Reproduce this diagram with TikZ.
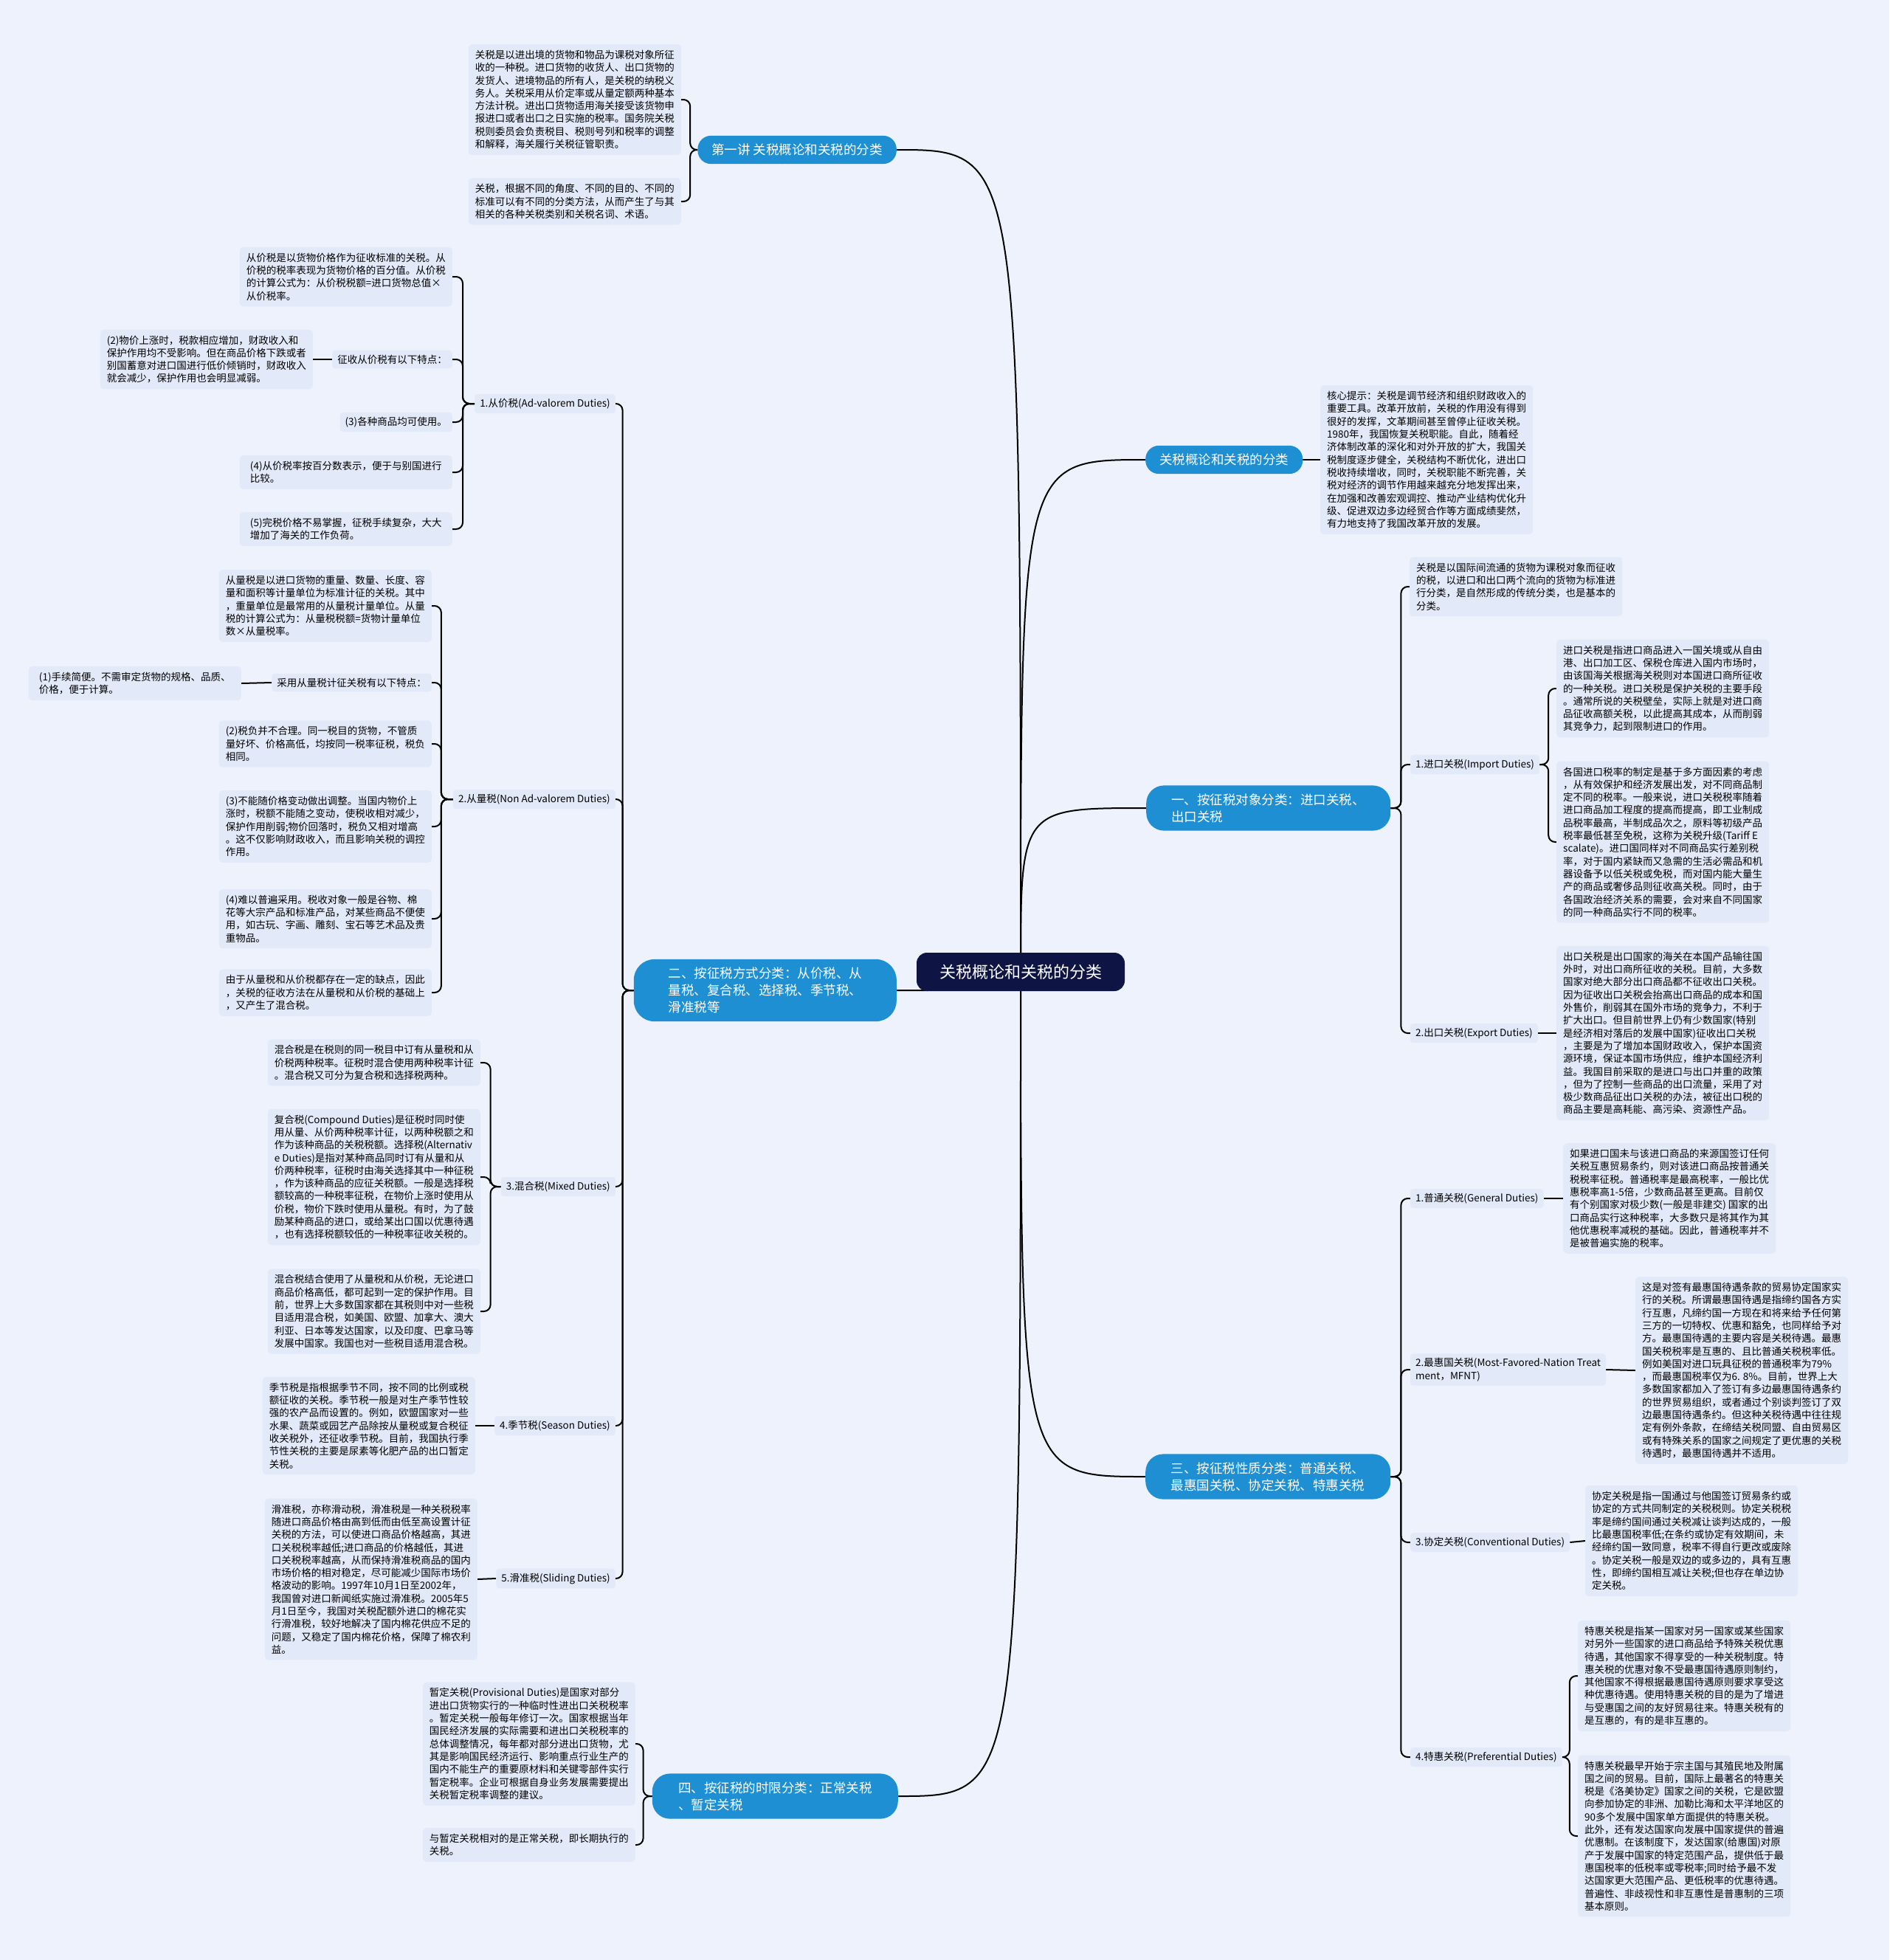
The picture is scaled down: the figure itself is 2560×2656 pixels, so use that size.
\documentclass[tikz,border=0pt]{standalone}
\usepackage{fontspec}
\setmainfont{Noto Sans CJK SC}
\definecolor{bgcol}{HTML}{EEF2FC}
\definecolor{boxcol}{HTML}{E2E9F8}
\definecolor{pillcol}{HTML}{1E8FD3}
\definecolor{rootcol}{HTML}{0E1545}
\pgfdeclarelayer{back}
\pgfdeclarelayer{lines}
\pgfsetlayers{back,lines,main}

\begin{document}
\begin{tikzpicture}[x=1pt,y=-1pt,
    txt/.style={fill=boxcol, rounded corners=5pt, align=left, minimum width=288pt,
      inner xsep=9pt, inner ysep=8pt, font=\fontsize{13.5}{17.3}\selectfont},
    lab/.style={fill=boxcol, rounded corners=4pt, align=left,
      inner xsep=7pt, inner ysep=6pt, font=\fontsize{13.5}{17.3}\selectfont},
    pill/.style={fill=pillcol, text=white, rounded corners=18pt, align=left,
      inner xsep=19pt, inner ysep=11pt, font=\fontsize{17.5}{23}\selectfont},
    link/.style={draw=black, line width=2pt, rounded corners=9pt}]

  \begin{pgfonlayer}{back}
    \fill[bgcol] (0,0) rectangle (2560,2656);
  \end{pgfonlayer}
  \useasboundingbox (0,0) rectangle (2560,2656);

  \node[fill=rootcol, text=white, rounded corners=14pt, inner xsep=31pt,
    minimum height=52pt, font=\fontsize{22}{26}\selectfont] (root) at (1383,1317) {关税概论和关税的分类};

  % left half
  \begin{scope}[every node/.style={anchor=east}]
    \node[pill] (n1) at (1215,203) {第一讲 关税概论和关税的分类};
    \node[pill, minimum width=356pt, rounded corners=28pt] (n2) at (1215,1342) {二、按征税方式分类：从价税、从\\
      量税、复合税、选择税、季节税、\\
      滑准税等};
    \node[pill, minimum width=333pt, rounded corners=24pt] (n4) at (1217,2434) {四、按征税的时限分类：正常关税\\
      、暂定关税};

    \node[txt] (tA) at (923,135) {关税是以进出境的货物和物品为课税对象所征\\
      收的一种税。进口货物的收货人、出口货物的\\
      发货人、进境物品的所有人，是关税的纳税义\\
      务人。关税采用从价定率或从量定额两种基本\\
      方法计税。进出口货物适用海关接受该货物申\\
      报进口或者出口之日实施的税率。国务院关税\\
      税则委员会负责税目、税则号列和税率的调整\\
      和解释，海关履行关税征管职责。};
    \node[txt] (tB) at (923,273) {关税，根据不同的角度、不同的目的、不同的\\
      标准可以有不同的分类方法，从而产生了与其\\
      相关的各种关税类别和关税名词、术语。};

    \node[lab] (c1) at (834,547) {1.从价税(Ad-valorem Duties)};
    \node[txt] (c1a) at (613,375) {从价税是以货物价格作为征收标准的关税。从\\
      价税的税率表现为货物价格的百分值。从价税\\
      的计算公式为：从价税税额=进口货物总值×\\
      从价税率。};
    \node[lab] (c1b) at (613,487) {征收从价税有以下特点：};
    \node[txt] (c1b1) at (424,487) {(2)物价上涨时，税款相应增加，财政收入和\\
      保护作用均不受影响。但在商品价格下跌或者\\
      别国蓄意对进口国进行低价倾销时，财政收入\\
      就会减少，保护作用也会明显减弱。};
    \node[lab] (c1c) at (613,572) {(3)各种商品均可使用。};
    \node[txt] (c1d) at (613,640) {(4)从价税率按百分数表示，便于与别国进行\\
      比较。};
    \node[txt] (c1e) at (613,717) {(5)完税价格不易掌握，征税手续复杂，大大\\
      增加了海关的工作负荷。};

    \node[lab] (c2) at (834,1083) {2.从量税(Non Ad-valorem Duties)};
    \node[txt] (c2a) at (585,821) {从量税是以进口货物的重量、数量、长度、容\\
      量和面积等计量单位为标准计征的关税。其中\\
      ，重量单位是最常用的从量税计量单位。从量\\
      税的计算公式为：从量税税额=货物计量单位\\
      数×从量税率。};
    \node[lab] (c2b) at (585,925) {采用从量税计征关税有以下特点：};
    \node[txt] (c2b1) at (327,926) {(1)手续简便。不需审定货物的规格、品质、\\
      价格，便于计算。};
    \node[txt] (c2c) at (585,1008) {(2)税负并不合理。同一税目的货物，不管质\\
      量好坏、价格高低，均按同一税率征税，税负\\
      相同。};
    \node[txt] (c2d) at (585,1120) {(3)不能随价格变动做出调整。当国内物价上\\
      涨时，税额不能随之变动，使税收相对减少，\\
      保护作用削弱;物价回落时，税负又相对增高\\
      。这不仅影响财政收入，而且影响关税的调控\\
      作用。};
    \node[txt] (c2e) at (585,1245) {(4)难以普遍采用。税收对象一般是谷物、棉\\
      花等大宗产品和标准产品，对某些商品不便使\\
      用，如古玩、字画、雕刻、宝石等艺术品及贵\\
      重物品。};
    \node[txt] (c2f) at (585,1345) {由于从量税和从价税都存在一定的缺点，因此\\
      ，关税的征收方法在从量税和从价税的基础上\\
      ，又产生了混合税。};

    \node[lab] (c3) at (834,1608) {3.混合税(Mixed Duties)};
    \node[txt] (c3a) at (651,1440) {混合税是在税则的同一税目中订有从量税和从\\
      价税两种税率。征税时混合使用两种税率计征\\
      。混合税又可分为复合税和选择税两种。};
    \node[txt] (c3b) at (651,1595) {复合税(Compound Duties)是征税时同时使\\
      用从量、从价两种税率计征，以两种税额之和\\
      作为该种商品的关税税额。选择税(Alternativ\\
      e Duties)是指对某种商品同时订有从量和从\\
      价两种税率，征税时由海关选择其中一种征税\\
      ，作为该种商品的应征关税额。一般是选择税\\
      额较高的一种税率征税，在物价上涨时使用从\\
      价税，物价下跌时使用从量税。有时，为了鼓\\
      励某种商品的进口，或给某出口国以优惠待遇\\
      ，也有选择税额较低的一种税率征收关税的。};
    \node[txt] (c3c) at (651,1777) {混合税结合使用了从量税和从价税，无论进口\\
      商品价格高低，都可起到一定的保护作用。目\\
      前，世界上大多数国家都在其税则中对一些税\\
      目适用混合税，如美国、欧盟、加拿大、澳大\\
      利亚、日本等发达国家，以及印度、巴拿马等\\
      发展中国家。我国也对一些税目适用混合税。};

    \node[lab] (c4) at (834,1932) {4.季节税(Season Duties)};
    \node[txt] (c4a) at (644,1932) {季节税是指根据季节不同，按不同的比例或税\\
      额征收的关税。季节税一般是对生产季节性较\\
      强的农产品而设置的。例如，欧盟国家对一些\\
      水果、蔬菜或园艺产品除按从量税或复合税征\\
      收关税外，还征收季节税。目前，我国执行季\\
      节性关税的主要是尿素等化肥产品的出口暂定\\
      关税。};

    \node[lab] (c5) at (834,2139) {5.滑准税(Sliding Duties)};
    \node[txt] (c5a) at (647,2140) {滑准税，亦称滑动税，滑准税是一种关税税率\\
      随进口商品价格由高到低而由低至高设置计征\\
      关税的方法，可以使进口商品价格越高，其进\\
      口关税税率越低;进口商品的价格越低，其进\\
      口关税税率越高，从而保持滑准税商品的国内\\
      市场价格的相对稳定，尽可能减少国际市场价\\
      格波动的影响。1997年10月1日至2002年，\\
      我国曾对进口新闻纸实施过滑准税。2005年5\\
      月1日至今，我国对关税配额外进口的棉花实\\
      行滑准税，较好地解决了国内棉花供应不足的\\
      问题，又稳定了国内棉花价格，保障了棉农利\\
      益。};

    \node[txt] (n4a) at (861,2363) {暂定关税(Provisional Duties)是国家对部分\\
      进出口货物实行的一种临时性进出口关税税率\\
      。暂定关税一般每年修订一次。国家根据当年\\
      国民经济发展的实际需要和进出口关税税率的\\
      总体调整情况，每年都对部分进出口货物，尤\\
      其是影响国民经济运行、影响重点行业生产的\\
      国内不能生产的重要原材料和关键零部件实行\\
      暂定税率。企业可根据自身业务发展需要提出\\
      关税暂定税率调整的建议。};
    \node[txt] (n4b) at (861,2500) {与暂定关税相对的是正常关税，即长期执行的\\
      关税。};
  \end{scope}

  % right half
  \begin{scope}[every node/.style={anchor=west}]
    \node[pill] (r0) at (1552,623) {关税概论和关税的分类};
    \node[pill, minimum width=331pt, rounded corners=24pt] (r1) at (1553,1095) {一、按征税对象分类：进口关税、\\
      出口关税};
    \node[pill, minimum width=332pt, rounded corners=24pt] (r2) at (1552,2001) {三、按征税性质分类：普通关税、\\
      最惠国关税、协定关税、特惠关税};

    \node[txt] (r0a) at (1789,623) {核心提示：关税是调节经济和组织财政收入的\\
      重要工具。改革开放前，关税的作用没有得到\\
      很好的发挥，文革期间甚至曾停止征收关税。\\
      1980年，我国恢复关税职能。自此，随着经\\
      济体制改革的深化和对外开放的扩大，我国关\\
      税制度逐步健全，关税结构不断优化，进出口\\
      税收持续增收，同时，关税职能不断完善，关\\
      税对经济的调节作用越来越充分地发挥出来，\\
      在加强和改善宏观调控、推动产业结构优化升\\
      级、促进双边多边经贸合作等方面成绩斐然，\\
      有力地支持了我国改革开放的发展。};

    \node[txt] (r1a) at (1910,795) {关税是以国际间流通的货物为课税对象而征收\\
      的税，以进口和出口两个流向的货物为标准进\\
      行分类，是自然形成的传统分类，也是基本的\\
      分类。};
    \node[lab] (r1b) at (1911,1036) {1.进口关税(Import Duties)};
    \node[txt] (r1b1) at (2109,933) {进口关税是指进口商品进入一国关境或从自由\\
      港、出口加工区、保税仓库进入国内市场时，\\
      由该国海关根据海关税则对本国进口商所征收\\
      的一种关税。进口关税是保护关税的主要手段\\
      。通常所说的关税壁垒，实际上就是对进口商\\
      品征收高额关税，以此提高其成本，从而削弱\\
      其竞争力，起到限制进口的作用。};
    \node[txt] (r1b2) at (2109,1141) {各国进口税率的制定是基于多方面因素的考虑\\
      ，从有效保护和经济发展出发，对不同商品制\\
      定不同的税率。一般来说，进口关税税率随着\\
      进口商品加工程度的提高而提高，即工业制成\\
      品税率最高，半制成品次之，原料等初级产品\\
      税率最低甚至免税，这称为关税升级(Tariff E\\
      scalate)。进口国同样对不同商品实行差别税\\
      率，对于国内紧缺而又急需的生活必需品和机\\
      器设备予以低关税或免税，而对国内能大量生\\
      产的商品或奢侈品则征收高关税。同时，由于\\
      各国政治经济关系的需要，会对来自不同国家\\
      的同一种商品实行不同的税率。};
    \node[lab] (r1c) at (1911,1400) {2.出口关税(Export Duties)};
    \node[txt] (r1c1) at (2109,1400) {出口关税是出口国家的海关在本国产品输往国\\
      外时，对出口商所征收的关税。目前，大多数\\
      国家对绝大部分出口商品都不征收出口关税。\\
      因为征收出口关税会抬高出口商品的成本和国\\
      外售价，削弱其在国外市场的竞争力，不利于\\
      扩大出口。但目前世界上仍有少数国家(特别\\
      是经济相对落后的发展中国家)征收出口关税\\
      ，主要是为了增加本国财政收入，保护本国资\\
      源环境，保证本国市场供应，维护本国经济利\\
      益。我国目前采取的是进口与出口并重的政策\\
      ，但为了控制一些商品的出口流量，采用了对\\
      极少数商品征出口关税的办法，被征出口税的\\
      商品主要是高耗能、高污染、资源性产品。};

    \node[lab] (r2a) at (1911,1624) {1.普通关税(General Duties)};
    \node[txt] (r2a1) at (2118,1624) {如果进口国未与该进口商品的来源国签订任何\\
      关税互惠贸易条约，则对该进口商品按普通关\\
      税税率征税。普通税率是最高税率，一般比优\\
      惠税率高1-5倍，少数商品甚至更高。目前仅\\
      有个别国家对极少数(一般是非建交) 国家的出\\
      口商品实行这种税率，大多数只是将其作为其\\
      他优惠税率减税的基础。因此，普通税率并不\\
      是被普遍实施的税率。};
    \node[lab] (r2b) at (1911,1856) {2.最惠国关税(Most-Favored-Nation Treat\\
      ment，MFNT)};
    \node[txt] (r2b1) at (2216,1857) {这是对签有最惠国待遇条款的贸易协定国家实\\
      行的关税。所谓最惠国待遇是指缔约国各方实\\
      行互惠，凡缔约国一方现在和将来给予任何第\\
      三方的一切特权、优惠和豁免，也同样给予对\\
      方。最惠国待遇的主要内容是关税待遇。最惠\\
      国关税税率是互惠的、且比普通关税税率低。\\
      例如美国对进口玩具征税的普通税率为79\%\\
      ，而最惠国税率仅为6. 8\%。目前，世界上大\\
      多数国家都加入了签订有多边最惠国待遇条约\\
      的世界贸易组织，或者通过个别谈判签订了双\\
      边最惠国待遇条约。但这种关税待遇中往往规\\
      定有例外条款，在缔结关税同盟、自由贸易区\\
      或有特殊关系的国家之间规定了更优惠的关税\\
      待遇时，最惠国待遇并不适用。};
    \node[lab] (r2c) at (1911,2090) {3.协定关税(Conventional Duties)};
    \node[txt] (r2c1) at (2148,2088) {协定关税是指一国通过与他国签订贸易条约或\\
      协定的方式共同制定的关税税则。协定关税税\\
      率是缔约国间通过关税减让谈判达成的，一般\\
      比最惠国税率低;在条约或协定有效期间，未\\
      经缔约国一致同意，税率不得自行更改或废除\\
      。协定关税一般是双边的或多边的，具有互惠\\
      性，即缔约国相互减让关税;但也存在单边协\\
      定关税。};
    \node[lab] (r2d) at (1911,2381) {4.特惠关税(Preferential Duties)};
    \node[txt] (r2d1) at (2138,2271) {特惠关税是指某一国家对另一国家或某些国家\\
      对另外一些国家的进口商品给予特殊关税优惠\\
      待遇，其他国家不得享受的一种关税制度。特\\
      惠关税的优惠对象不受最惠国待遇原则制约，\\
      其他国家不得根据最惠国待遇原则要求享受这\\
      种优惠待遇。使用特惠关税的目的是为了增进\\
      与受惠国之间的友好贸易往来。特惠关税有的\\
      是互惠的，有的是非互惠的。};
    \node[txt] (r2d2) at (2138,2488) {特惠关税最早开始于宗主国与其殖民地及附属\\
      国之间的贸易。目前，国际上最著名的特惠关\\
      税是《洛美协定》国家之间的关税，它是欧盟\\
      向参加协定的非洲、加勒比海和太平洋地区的\\
      90多个发展中国家单方面提供的特惠关税。\\
      此外，还有发达国家向发展中国家提供的普遍\\
      优惠制。在该制度下，发达国家(给惠国)对原\\
      产于发展中国家的特定范围产品，提供低于最\\
      惠国税率的低税率或零税率;同时给予最不发\\
      达国家更大范围产品、更低税率的优惠待遇。\\
      普遍性、非歧视性和非互惠性是普惠制的三项\\
      基本原则。};
  \end{scope}

  \begin{pgfonlayer}{lines}
    % root to main branches
    \foreach \b in {n1,n2,n4}
      \draw[link] (root.center) .. controls (root.center |- \b.east) .. (\b.east);
    \foreach \b in {r0,r1,r2}
      \draw[link] (root.center) .. controls (root.center |- \b.west) .. (\b.west);

    % left brackets
    \foreach \c in {tA,tB}
      \draw[link] (n1.west) -- ++(-10,0) |- (\c.east);
    \foreach \c in {c1,c2,c3,c4,c5}
      \draw[link] (n2.west) -- ++(-15,0) |- (\c.east);
    \foreach \c in {c1a,c1b,c1c,c1d,c1e}
      \draw[link] (c1.west) -- ++(-16,0) |- (\c.east);
    \foreach \c in {c2a,c2b,c2c,c2d,c2e,c2f}
      \draw[link] (c2.west) -- ++(-16,0) |- (\c.east);
    \foreach \c in {c3a,c3b,c3c}
      \draw[link] (c3.west) -- ++(-14,0) |- (\c.east);
    \foreach \c in {n4a,n4b}
      \draw[link] (n4.west) -- ++(-12,0) |- (\c.east);
    \draw[link] (c1b.west) -- (c1b1.east);
    \draw[link] (c2b.west) -- (c2b1.east);
    \draw[link] (c4.west) -- (c4a.east);
    \draw[link] (c5.west) -- (c5a.east);

    % right brackets
    \draw[link] (r0.east) -- (r0a.west);
    \foreach \c in {r1a,r1b,r1c}
      \draw[link] (r1.east) -- ++(14,0) |- (\c.west);
    \foreach \c in {r1b1,r1b2}
      \draw[link] (r1b.east) -- ++(12,0) |- (\c.west);
    \draw[link] (r1c.east) -- (r1c1.west);
    \foreach \c in {r2a,r2b,r2c,r2d}
      \draw[link] (r2.east) -- ++(14,0) |- (\c.west);
    \draw[link] (r2a.east) -- (r2a1.west);
    \draw[link] (r2b.east) -- (r2b1.west);
    \draw[link] (r2c.east) -- (r2c1.west);
    \foreach \c in {r2d1,r2d2}
      \draw[link] (r2d.east) -- ++(10,0) |- (\c.west);
  \end{pgfonlayer}

\end{tikzpicture}
\end{document}
